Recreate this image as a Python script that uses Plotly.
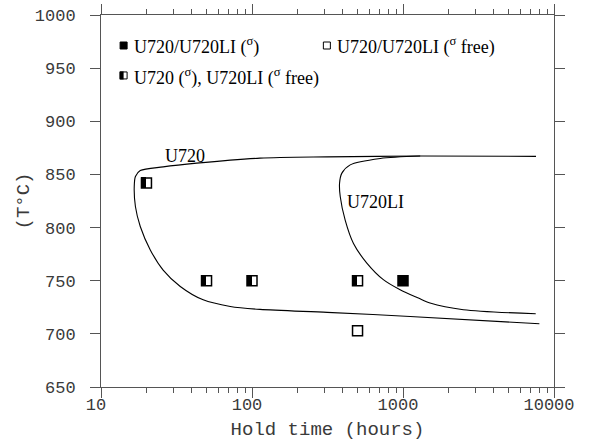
import numpy as np
import plotly.graph_objects as go

# ---- data ----
u720_hours = [7600, 1300, 315, 113, 43, 25.8, 18.2, 16.9, 16.6, 16.9, 18.2, 21.2, 25.8,
              33.5, 47.5, 71.8, 113, 315, 1114, 8000]
u720_temp = [867, 867.3, 866.5, 865.3, 860.6, 857.1, 853.6, 848, 838.6, 819.8, 801, 779, 760,
             744.6, 732, 725.8, 723, 720.2, 716.4, 709.5]

u720li_hours = [1300, 707, 447, 393, 380, 384, 414, 470, 576, 741, 957, 1264, 1510, 2512, 7570]
u720li_temp = [867.3, 865, 859, 851, 841.7, 829.2, 807, 785, 766.6, 751, 741.5, 733.7, 729,
               722.7, 718.9]

sigma_hours = [1000]
sigma_temp = [750]
free_hours = [500]
free_temp = [703]
mixed_hours = [20, 50, 100, 500]
mixed_temp = [842, 750, 750, 750]

x_tickvals = [10, 100, 1000, 10000]
x_ticktext = ["10", "100", "1000", "10000"]
y_tickvals = [650, 700, 750, 800, 850, 900, 950, 1000]

AX = "#555555"
TXT = "#3a3a3a"
MONO = "Liberation Mono, DejaVu Sans Mono, monospace"
SERIF = "Liberation Serif, Times New Roman, serif"

fig = go.Figure()
fig.add_trace(go.Scatter(x=u720_hours, y=u720_temp, mode="lines",
                         line=dict(color="black", width=1.1, shape="spline", smoothing=0.8),
                         hoverinfo="skip"))
fig.add_trace(go.Scatter(x=u720li_hours, y=u720li_temp, mode="lines",
                         line=dict(color="black", width=1.1, shape="spline", smoothing=0.8),
                         hoverinfo="skip"))
fig.add_trace(go.Scatter(x=sigma_hours, y=sigma_temp, mode="markers",
                         marker=dict(symbol="square", size=10, color="black",
                                     line=dict(color="black", width=1.5))))
fig.add_trace(go.Scatter(x=free_hours, y=free_temp, mode="markers",
                         marker=dict(symbol="square", size=10, color="white",
                                     line=dict(color="black", width=1.5))))
fig.add_trace(go.Scatter(x=mixed_hours, y=mixed_temp, mode="markers",
                         marker=dict(symbol="square", size=10, color="white",
                                     line=dict(color="black", width=1.5))))

annotations = []
# black left half of the half-filled markers
for h, t in zip(mixed_hours, mixed_temp):
    annotations.append(dict(x=np.log10(h), y=t, xref="x", yref="y", text=" ",
                            showarrow=False, width=5, height=11, bgcolor="black",
                            borderpad=0, borderwidth=0, xshift=-3,
                            font=dict(size=1, color="black")))

# legend icons (paper coordinates)
def icon(px, py, fill, half=False):
    out = [dict(type="rect", xref="paper", yref="paper", xsizemode="pixel", ysizemode="pixel",
                xanchor=px, yanchor=py, x0=-3.5, x1=3.5, y0=-3.5, y1=3.5,
                fillcolor=fill, line=dict(color="black", width=1))]
    if half:
        out.append(dict(type="rect", xref="paper", yref="paper", xsizemode="pixel",
                        ysizemode="pixel", xanchor=px, yanchor=py, x0=-4, x1=0, y0=-4, y1=4,
                        fillcolor="black", line=dict(width=0)))
    return out

shapes = []
shapes += icon(0.0499, 0.918, "black")
shapes += icon(0.4986, 0.918, "white")
shapes += icon(0.0499, 0.8375, "white", half=True)

ann_font = dict(family=SERIF, size=18, color="black")
annotations += [
    dict(text="U720/U720LI (<sup>σ</sup>)", x=0.069, y=0.9162, xref="paper", yref="paper",
         xanchor="left", yanchor="middle", showarrow=False, font=ann_font),
    dict(text="U720/U720LI (<sup>σ</sup> free)", x=0.5169, y=0.9162, xref="paper", yref="paper",
         xanchor="left", yanchor="middle", showarrow=False, font=ann_font),
    dict(text="U720 (<sup>σ</sup>), U720LI (<sup>σ</sup> free)", x=0.069, y=0.8343,
         xref="paper", yref="paper", xanchor="left", yanchor="middle", showarrow=False,
         font=ann_font),
    dict(text="U720", x=0.1374, y=0.6213, xref="paper", yref="paper",
         xanchor="left", yanchor="middle", showarrow=False, font=ann_font),
    dict(text="U720LI", x=0.5389, y=0.4964, xref="paper", yref="paper",
         xanchor="left", yanchor="middle", showarrow=False, font=ann_font),
]

fig.update_layout(
    width=592, height=447,
    margin=dict(l=101, r=38, t=15, b=60, autoexpand=False),
    paper_bgcolor="white", plot_bgcolor="white",
    showlegend=False,
    shapes=shapes, annotations=annotations,
    xaxis=dict(type="log", range=[1, 4], tickvals=x_tickvals, ticktext=x_ticktext,
               automargin=False,
               showgrid=False, zeroline=False, showline=True, linecolor=AX, linewidth=1,
               mirror="ticks", ticks="outside", ticklen=10, tickcolor=AX, tickwidth=1,
               minor=dict(ticks="outside", ticklen=5, tickcolor=AX, dtick="D1", showgrid=False),
               ticklabelstandoff=-8, ticklabelshift=-5,
               tickfont=dict(family=MONO, size=17, color=TXT),
               title=dict(text="Hold time (hours)", font=dict(family=MONO, size=19, color=TXT),
                          standoff=7)),
    yaxis=dict(range=[650, 1000], tickvals=y_tickvals, automargin=False,
               showgrid=False, zeroline=False, showline=True, linecolor=AX, linewidth=1,
               mirror="ticks", ticks="outside", ticklen=10, tickcolor=AX, tickwidth=1,
               ticklabelstandoff=11,
               tickfont=dict(family=MONO, size=17, color=TXT),
               title=dict(text="(T°C)", font=dict(family=MONO, size=19, color=TXT),
                          standoff=0)),
)

fig.write_html("out.html", config={"displayModeBar": False},
               post_script="document.body.style.margin='0';")
